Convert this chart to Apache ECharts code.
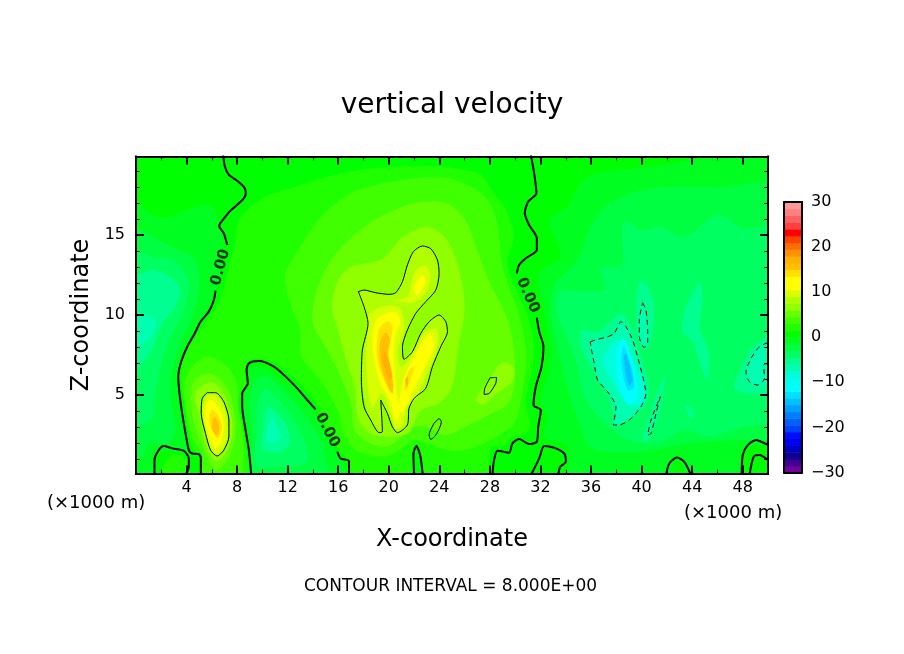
<!DOCTYPE html>
<html>
<head>
<meta charset="utf-8">
<title>vertical velocity</title>
<script src="https://cdn.jsdelivr.net/npm/echarts@6/dist/echarts.min.js"></script>
<style>
html,body{margin:0;padding:0;background:#fff}
#chart{width:904px;height:654px}
</style>
</head>
<body>
<div id="chart"></div>
<script>
// colour bar: lower edge of each band, and its colour
var bandFloors = [-30,-28.5,-27,-25.5,-24,-22.5,-21,-19.5,-18,-16.5,-15,-13.5,-12,-10.5,-9,-7.5,-6,-4.5,-3,-1.5,
                  0,1.5,3,4.5,6,7.5,9,10.5,12,13.5,15,16.5,18,19.5,21,22.5,24,25.5,27,28.5];
var bandColors = ['#7000a0','#400090','#100090','#0000c0','#0000f0','#0010ff','#0040ff','#0060ff','#0080ff','#00a0ff',
                  '#00c0ff','#00e0ff','#00ffff','#00fff0','#00ffd8','#00ffb0','#00ff90','#00ff60','#00ff40','#00ff20',
                  '#00ff00','#20ff00','#40ff00','#66ff00','#90ff00','#b0ff00','#d8ff00','#ffff00','#ffff00','#ffe000',
                  '#ffc000','#ffb000','#ff9000','#ff6c00','#ff4000','#ff0000','#ff4040','#ff6060','#ff8080','#ff9898'];

// axis ticks (km)
var xMajor = [4,8,12,16,20,24,28,32,36,40,44,48];
var xMinor = [2,6,10,14,18,22,26,30,34,38,42,46];
var zMajor = [5,10,15];
var zMinor = [1,2,3,4,6,7,8,9,11,12,13,14,16,17,18,19];
var barTicks = [-30,-20,-10,0,10,20,30];

// filled field: [band floor, [[x km, z km], ...]]
var fieldBase = [[0, [[-1,-1],[51,-1],[51,21],[-1,21]]]];
var leftLow = [
  [-1.5, [[-1,18],[1,16.4],[2.5,16.1],[4.5,16.7],[6,16.8],[6.6,15.6],[6.9,14.5],[6.6,12.5],[6,10.8],[5,9.3],[3.9,7.7],[3.4,6],[3.5,4.2],[3.9,2.4],[4.1,1.6],[3,1.5],[1.8,1.4],[1.3,0.8],[1.3,-1],[-1,-1]]],
  [-3, [[-1,15.6],[1.5,14.8],[3,14.2],[4.5,13.6],[5,12],[4.5,10],[3.5,8.2],[2.8,6.3],[2.8,4.5],[3.1,2.8],[2.5,2],[1,2],[0.5,1.2],[-1,1]]],
  [-4.5, [[-1,14],[1.5,13.6],[3,13.4],[4.1,12.2],[3.8,10.3],[2.6,8.4],[1.9,6.5],[1.5,5],[1.2,3.5],[-1,3]]],
  [-6, [[-1,11.8],[1.3,12.8],[2.8,12.3],[3.5,11.6],[3.1,10.5],[2,9.3],[1.3,7.9],[0.3,6.8],[-1,6.6]]],
  [-7.5, [[-1,10.2],[1.5,9.7],[1.1,8.6],[-1,7.6]]]
];
var midLow = [
  [-1.5, [[8.8,-1],[8.7,2.5],[8.5,4.5],[8.6,5.1],[9,5.8],[9,6.7],[10,6.8],[11.5,6],[13,5],[14.2,3.8],[15,2.5],[15.9,1.3],[16.4,0.8],[16.6,-1]]],
  [-3, [[9.1,-1],[9.2,2.5],[9,4.5],[9.5,6],[10.5,6.1],[12,5],[13.5,3.6],[14.6,2.2],[15,1],[15.3,-1]]],
  [-4.5, [[9.5,0.6],[9.5,2.5],[9.6,4.5],[10.3,5.4],[11.5,4.5],[12.6,3.3],[13.4,2],[13.5,0.8],[11.5,0.5]]],
  [-6, [[10,1.6],[10.1,3],[10.4,4.3],[11,4],[11.9,3.1],[12.2,2.1],[11.8,1.6],[10.9,1.4]]],
  [-7.5, [[10.4,2.1],[10.5,3.1],[10.9,3.5],[11.2,2.9],[11.5,2.4],[11,2]]]
];
var rightLow = [
  [-1.5, [[51,19.06],[38.1,19.06],[35.46,18.5],[34.14,16.77],[32.7,15.9],[33.6,13.65],[31.9,12.6],[32.56,9.06],[32.7,6.77],[32,4.5],[32.56,3.65],[32.3,2.4],[34.14,1.77],[34.4,-1],[41.8,-1],[42.85,1.35],[44.2,-1],[47.9,-1],[47.9,1.56],[51,2.4]]],
  [-3, [[51,17.8],[46,18],[40.7,17.9],[37.3,16.9],[35.8,15.2],[34.9,13.4],[33.1,11.9],[32.8,10.2],[33.5,7.4],[34.2,5.3],[35.2,3],[36,1.7],[39.7,1.45],[43.9,2],[47.6,2.2],[51,2.6]]],
  [-4.5, [[51,15.4],[48.1,15.4],[46,16.25],[43.4,14.9],[41.5,15.5],[40.2,15.3],[38.6,15.8],[38.4,13],[36.8,13],[37,11.55],[33.6,11.45],[33.35,10.1],[34.7,7.4],[35.5,4.9],[36.8,3.45],[38.9,2.2],[41.3,2],[43.4,2.8],[45.5,2.4],[47.9,3],[51,3.65]]],
  [-6, [[35.3,9.05],[36.5,8.95],[38.4,10.1],[39.3,9.05],[39.7,8],[40.5,5.95],[40.5,4.7],[39.7,3.85],[38.1,3.45],[37.6,4.3],[37,5.7],[36,6.8],[35.2,8]]],
  [-6, [[40,12.2],[40.9,10.95],[40.9,9.05],[40.35,7.8],[39.7,8.45],[39.55,10.5]]],
  [-6, [[44.6,12],[44.8,10.95],[44.6,9.25],[45.35,7.6],[45.2,5.95],[44.7,6.8],[44,8.45],[43.25,8.85],[43.4,10.3]]],
  [-6, [[51,9.05],[48.8,8],[47.9,6.77],[47.35,5.5],[48.4,5.1],[51,5.3]]],
  [-6, [[41.8,6.15],[41.4,3.85],[40.5,2.2],[40.1,2.2],[40.74,4.05]]],
  [-6, [[43.8,4.27],[44.2,3.65],[43.8,3.65],[43.5,4.27]]],
  [-7.5, [[35.94,8.33],[37.31,8.64],[37.84,8.85],[38.36,9.58],[39.29,8.44],[39.82,6.98],[40.34,5.1],[39.95,4.27],[39.16,3.54],[37.76,3.13],[37.97,4.27],[37.31,5.21],[36.52,5.94],[36.25,6.98]]],
  [-7.5, [[40.08,10.77],[40.48,9.06],[40.48,8.23],[40.21,7.98],[39.82,8.64],[39.82,9.69]]],
  [-7.5, [[51,8.4],[49.32,8.02],[48.66,7.29],[48.26,6.46],[48.53,5.83],[49.19,5.62],[51,6]]],
  [-9, [[37,7.4],[38.1,8.45],[38.9,7.8],[40.2,5.7],[40.2,4.5],[39.5,4.3],[38.6,4.7],[37.8,5.7],[37,6.77]]],
  [-12, [[38,7.6],[38.6,8.55],[39.3,7],[39.7,4.9],[38.9,4.4],[38.1,5.95]]],
  [-13.5, [[38.4,7],[38.6,8.1],[39.2,6.75],[39.4,5.5],[38.9,5.3]]],
  [-15, [[38.6,7.2],[38.75,7.6],[39.3,5.95],[39,5.6]]]
];
var centerHigh = [
  [1.5, [[22,19.3],[25,19.2],[27.3,18.75],[28.3,17.6],[29.3,16.55],[29.9,14.9],[29.4,13.4],[29.65,12.4],[31,9.9],[31.5,7.8],[31.1,5.7],[30.8,4.5],[31.2,3],[30.6,2.5],[29.8,2.4],[29.1,1.8],[28.2,1.8],[27.9,0.9],[27.9,-1],[22.8,-1],[22.5,1.5],[22.2,2],[21.9,1.5],[21.8,-1],[17.5,-1],[16.7,1],[16,1.6],[15,3],[14.4,4.3],[13,5.7],[11,7],[9.7,7.3],[8.9,7.1],[8.6,6.4],[8.7,5.7],[8.2,5],[8.2,4],[8.5,2.8],[8.7,1.5],[8.9,-1],[5.4,-1],[5.4,1.2],[4.5,1.6],[4.2,2.5],[3.9,4],[3.6,5.5],[3.6,6.8],[4.2,8],[5.4,9.4],[6.5,10.7],[7.2,12.5],[7.8,14.5],[8.2,16],[10,17.3],[12.5,18],[15,18.6],[18,19.1]]],
  [3, [[25,18.5],[23,18.6],[20,18.3],[17,17.6],[14.5,16],[12.8,14],[11.8,12.5],[12.3,10.5],[13,9],[13,7.5],[14.5,6],[16,4],[16.5,2.5],[17.5,1.5],[20,1.2],[22,2.2],[23,2],[25,1.5],[27,1.8],[28.5,2.4],[30,3.3],[30.5,5],[30.9,7.5],[30.3,10],[29,13],[28.5,16],[27.5,17.5]]],
  [4.5, [[24.5,17],[22,17],[19,16],[17,14.8],[15.5,13.5],[14.3,11.5],[14,9.5],[15,8],[16,6.5],[17,4.5],[17.3,2.8],[18.5,2],[20,1.8],[22,3],[23,3],[24.5,2.5],[26,3],[28,3.8],[29.5,4.5],[30,6.5],[29.5,9.5],[28,12],[27,14],[26,16]]],
  [6, [[23,15.5],[21,14.8],[19.5,13.5],[17,13],[16,12.2],[15.5,10.5],[16,9],[16.5,7.5],[17.3,5.5],[17.6,3.5],[18.8,2.5],[21.5,2.6],[22.5,4],[24,4.5],[25,5.5],[25.5,8],[26,10.5],[25.5,13],[24.5,14.8]]],
  [4.5, [[25.2,6],[26,8],[26.5,8.2],[26.2,7.4],[25.4,5.9]]],
  [6, [[26.9,4.7],[28,6],[28.9,7],[29.8,6.8],[29.8,5.9],[28.4,5],[27.5,4.4]]],
  [6, [[16.7,9.6],[17,9],[16.7,8.4],[16.3,8.6],[16.3,9.3]]],
  [7.5, [[17.59,11.46],[18.96,11.39],[20.02,11.29],[20.55,11.39],[21.47,13.12],[21.95,13.96],[22.66,14.31],[23.32,14.14],[23.98,12.6],[23.72,11.56],[22.13,10.1],[21.47,9.06],[21.08,8.02],[21.2,7.23],[22.53,8.85],[23.98,10],[24.64,8.96],[23.45,6.77],[22.92,5.42],[21.6,4.17],[21.47,3.13],[20.68,2.65],[19.89,3.85],[19.36,4.69],[19.49,2.71],[18.57,3.44],[17.83,5.94],[17.91,7.81],[18.36,9.48]]],
  [9, [[18.5,10.1],[19.9,10.6],[20.9,10.4],[21.2,9.05],[20.7,7.8],[21,6.75],[22,7.7],[22.8,8.9],[23.8,9.1],[23.8,7.9],[23,6.35],[22.3,5.1],[21.4,4.2],[21.1,3.1],[20.55,2.9],[20.15,3.85],[19.5,5.1],[18.7,4.25],[18.3,5.7],[18.2,7.4],[18.3,8.85]]],
  [9, [[20.4,10.9],[21.5,11.15],[22,12.6],[22.8,13.1],[23.3,12.6],[23.05,11.55],[22,10.8]]],
  [10.5, [[19.1,9.8],[20.5,10.2],[20.9,9.65],[20.5,8.6],[20.4,7.35],[20.6,5.3],[20.85,3.85],[20.55,3.3],[20.15,4.5],[19.35,5.75],[18.8,7.4],[18.7,8.7]]],
  [10.5, [[21.2,6],[22.1,7.6],[23.2,8.8],[23.6,8.1],[22.75,6.6],[21.85,5.15],[21.1,3.85],[20.8,4.2]]],
  [10.5, [[22,11.75],[22.65,12.5],[22.9,12],[22.25,11.25]]],
  [13.5, [[19.2,9.05],[19.9,9.6],[20.3,9.25],[20,7.8],[20.3,5.1],[19.75,5.7],[19.1,7.2]]],
  [13.5, [[21.2,5.3],[21.6,6.55],[22,6.75],[21.5,5.5]]],
  [15, [[19.3,8.25],[19.75,8.9],[20.1,8.45],[19.9,7.4],[20.3,5.95],[20.3,5.1],[19.85,5.7],[19.35,7]]],
  [16.5, [[19.5,7.4],[19.75,7.7],[20.3,6.15],[20,6]]],
  [16.5, [[21.3,5.95],[21.5,6.15],[21.45,5.5]]],
  [0, [[21.9,-1],[22,1.2],[22.2,1.6],[22.5,1.1],[22.6,-1]]]
];
var lobeHigh = [
  [1.5, [[2,0.4],[3,1.3],[4,1],[3.9,0.2],[2.1,0.2]]],
  [3, [[5.8,7.4],[7.2,6.8],[8,5.7],[8.1,4.1],[8.5,2],[8,-1],[5.2,-1],[5.2,1.35],[4.4,2.4],[3.9,4.5],[3.9,6],[4.7,7]]],
  [4.5, [[5.8,6.35],[6.8,5.9],[7.5,4.9],[7.9,3],[7.5,1.35],[6.4,0.3],[5.8,0.9],[4.7,3],[4.3,4.9],[4.7,6]]],
  [6, [[5.8,5.8],[6.7,5.4],[7.5,3.85],[7.6,2.4],[6.8,1.05],[6.2,0.95],[5.5,2],[5,3.85],[4.7,5.1]]],
  [7.5, [[5.63,5.15],[6.29,5.15],[6.95,4.58],[7.35,3.44],[7.35,2.4],[6.95,1.56],[6.42,1.19],[5.9,1.56],[5.5,2.6],[5.16,3.85],[5.24,4.79]]],
  [9, [[5.7,5],[6.5,4.9],[7.1,3.8],[7.25,2.5],[6.8,1.5],[6.4,1.3],[5.9,1.7],[5.45,3],[5.3,4.2]]],
  [10.5, [[6,4.7],[6.7,4.05],[6.95,3],[6.7,2],[6.3,1.7],[5.8,2.4],[5.4,3.65],[5.6,4.5]]],
  [13.5, [[6,4.1],[6.55,3.65],[6.8,3],[6.5,2.3],[6,2.8],[5.8,3.45]]],
  [15, [[6.2,3.65],[6.55,3.2],[6.55,2.6],[6.3,2.5],[6,3]]]
];

// contours: [x km, z km]
var zeroContours = [
  [[6.9,20],[7.03,19.27],[7.35,18.75],[8,18.39],[8.54,18],[8.69,17.64],[8.54,17.29],[8.14,16.98],[7.48,16.52],[7.08,16.15],[6.58,15.56],[6.95,15.1],[7.22,14.37]],
  [[6.29,11.52],[6.16,10.94],[5.76,10.21],[5.1,9.58],[4.58,8.75],[4.05,8.02],[3.57,7.08],[3.34,6.15],[3.44,5.1],[3.65,3.85],[3.92,2.6],[4.18,1.56],[4.44,1.35],[4.97,1.31],[5.13,1.04],[5.13,0]],
  [[1.46,0],[1.46,0.94],[1.8,1.56],[2.2,1.81],[2.86,1.67],[3.78,1.52],[4.18,1.04],[4.18,0.52],[3.92,0]],
  [[9.12,0],[8.93,1.56],[8.67,2.81],[8.4,4.27],[8.4,5.1],[8.85,5.73],[8.75,6.56],[8.93,6.98],[9.72,7.12],[10.91,6.77],[11.84,6.15],[12.76,5.42],[13.55,4.69],[14.21,4.1]],
  [[15.93,1.46],[16.19,1.04],[16.85,0.87],[16.85,0]],
  [[22,0],[21.95,1.35],[22.18,1.81],[22.48,1.25],[22.69,0]],
  [[31.24,20],[31.5,18.85],[31.68,17.6],[31.02,17.08],[30.76,16.35],[31.1,15.62],[31.71,14.79],[31.71,14.06],[30.84,13.54],[30.31,13.12],[30.13,12.6]],
  [[31.71,9.83],[31.9,8.96],[32.24,8.02],[32.08,6.77],[31.63,5.52],[31.45,4.37],[32.03,4.06],[31.82,3.02],[31.71,2.08],[31.1,1.94],[30.31,2.25],[29.78,1.98],[29.52,1.4],[28.6,1.52],[28.33,0.94],[28.2,0]],
  [[31.24,0],[31.9,1.04],[32.29,1.81],[33.08,1.71],[33.88,1.35],[34.01,0.83],[33.56,0.52],[33.4,0]],
  [[41.93,0],[42.19,0.73],[42.8,1.1],[43.38,0.83],[43.91,0]],
  [[47.92,0],[48,1.25],[48.4,1.87],[49.06,2.19],[49.85,1.94],[50,1.9]],
  [[48.53,0],[48.87,1.15],[49.32,1.25],[50,0.94]]
];
var plusContours = [
  [[17.59,11.46],[18.04,11.56],[18.96,11.39],[20.02,11.29],[20.55,11.39],[21.08,12.08],[21.47,13.12],[21.95,13.96],[22.66,14.31],[23.32,14.14],[23.85,13.44],[23.98,12.6],[23.72,11.56],[22.92,10.83],[22.13,10.1],[21.47,9.06],[21.08,8.02],[21.2,7.23],[21.87,7.71],[22.53,8.85],[23.19,9.58],[23.98,10],[24.51,9.58],[24.64,8.96],[24.11,8.02],[23.45,6.77],[22.92,5.42],[22,4.79],[21.6,4.17],[21.47,3.13],[20.68,2.65],[20.28,3.02],[19.89,3.85],[19.36,4.69],[19.49,2.71],[19.23,2.65],[18.57,3.44],[18.04,4.27],[17.83,5.94],[17.91,7.81],[18.36,9.48],[18.04,10.52],[17.59,11.46]],
  [[5.63,5.15],[6.29,5.15],[6.95,4.58],[7.35,3.44],[7.35,2.4],[6.95,1.56],[6.42,1.19],[5.9,1.56],[5.5,2.6],[5.16,3.85],[5.24,4.79],[5.63,5.15]],
  [[23.98,3.54],[24.16,3.33],[23.72,2.5],[23.32,2.23],[23.19,2.5],[23.58,3.23],[23.98,3.54]],
  [[28.02,6.08],[28.52,6.1],[28.46,5.73],[27.94,5.1],[27.54,5.04],[27.59,5.42],[28.02,6.08]]
];
var minusContours = [
  [[35.94,8.33],[36.52,8.48],[37.31,8.64],[37.84,8.85],[38.36,9.58],[38.76,9.27],[39.29,8.44],[39.82,6.98],[40.16,5.94],[40.34,5.1],[39.95,4.27],[39.16,3.54],[38.23,3.13],[37.76,3.13],[37.97,4.27],[37.31,5.21],[36.52,5.94],[36.25,6.98],[35.99,8.02],[35.94,8.33]],
  [[40.08,10.77],[40.34,10.31],[40.48,9.06],[40.48,8.23],[40.21,7.98],[39.82,8.64],[39.82,9.69],[40.08,10.77]],
  [[41.48,4.9],[41.14,3.85],[40.74,2.6],[40.48,2.5],[40.74,3.44],[41.48,4.9]],
  [[49.98,8.27],[49.32,8.02],[48.66,7.29],[48.26,6.46],[48.53,5.83],[49.19,5.62],[49.72,6.04],[49.66,6.88],[50,6.98]]
];
// "0.00" labels on the zero contour: x km, z km, rotation
var zeroLabels = [[6.69,12.98,75],[15.14,2.81,-63],[31.0,11.23,-66]];

var FONT = 'DejaVu Sans';
var fieldRegions = fieldBase.concat(leftLow, midLow, rightLow, centerHigh, lobeHigh);

function colorOf(floor){
    return bandColors[bandFloors.indexOf(floor)];
}

// one axis that only carries ticks; gets the frame line as well
function tickAxis(position, min, max, ticks, len, grid){
    return {
        type: 'value', gridIndex: grid || 0, position: position, min: min, max: max, z: 10,
        splitLine: {show: false},
        axisLine: {show: true, onZero: false, lineStyle: {color: '#000', width: 2}},
        axisTick: {show: true, inside: true, length: len, customValues: ticks, lineStyle: {color: '#000', width: len > 5 ? 2 : 1}},
        axisLabel: {show: false}
    };
}
function labelled(axis, values, margin){
    axis.axisLabel = {show: true, customValues: values, margin: margin, color: '#000', fontSize: 16, fontFamily: FONT,
        formatter: function(v){ return String(v).replace('-', '\u2212'); }};
    return axis;
}

var xBottom = labelled(tickAxis('bottom',0,50,xMajor,8), xMajor, 6);
xBottom.name = 'X-coordinate';
xBottom.nameLocation = 'middle';
xBottom.nameGap = 54;
xBottom.nameTextStyle = {fontSize: 24, fontFamily: FONT, color: '#000'};
var zLeft = labelled(tickAxis('left',0.1,19.9,zMajor,8), zMajor, 11);
zLeft.name = 'Z-coordinate';
zLeft.nameLocation = 'middle';
zLeft.nameGap = 37;
zLeft.nameTextStyle = {fontSize: 24, fontFamily: FONT, color: '#000'};

var barRight = labelled(tickAxis('right',-30,30,[],0,1), barTicks, 9);
barRight.axisTick.show = false;
var barLeft = tickAxis('left',-30,30,[],0,1);
barLeft.axisTick.show = false;
var barX0 = tickAxis('bottom',0,1,[],0,1);
barX0.axisTick.show = false;
var barX1 = tickAxis('top',0,1,[],0,1);
barX1.axisTick.show = false;

var chart = echarts.init(document.getElementById('chart'));

var series = [{
    type: 'custom', xAxisIndex: 0, yAxisIndex: 0, z: 1, silent: true,
    data: fieldRegions.map(function(r, i){ return [i]; }),
    encode: {x: -1, y: -1},
    renderItem: function(params, api){
        var r = fieldRegions[params.dataIndex];
        return {
            type: 'polygon',
            shape: {points: r[1].map(function(p){ return api.coord(p); }), smooth: 0.3},
            style: {fill: colorOf(r[0])},
            clipPath: {type: 'rect', shape: {x: params.coordSys.x, y: params.coordSys.y, width: params.coordSys.width, height: params.coordSys.height}}
        };
    }
},{
    type: 'custom', xAxisIndex: 4, yAxisIndex: 4, z: 1, silent: true,
    data: bandFloors.map(function(f, i){ return [i]; }),
    encode: {x: -1, y: -1},
    renderItem: function(params, api){
        var f = bandFloors[params.dataIndex];
        var a = api.coord([0, f + 1.5]), b = api.coord([1, f]);
        return {type: 'rect', shape: {x: a[0], y: a[1], width: b[0] - a[0], height: b[1] - a[1] + 0.5}, style: {fill: bandColors[params.dataIndex]}};
    }
}];
function contourSeries(rows, width, dash){
    rows.forEach(function(row){
        series.push({
            type: 'line', xAxisIndex: 0, yAxisIndex: 0, z: 3, silent: true, data: row, smooth: 0.25,
            showSymbol: false, symbol: 'none', clip: true,
            lineStyle: {color: '#000', width: width, type: dash}
        });
    });
}
contourSeries(zeroContours, 2, 'solid');
contourSeries(plusContours, 1, 'solid');
contourSeries(minusContours, 1, [5,4]);
series.push({
    type: 'scatter', xAxisIndex: 0, yAxisIndex: 0, z: 4, silent: true, symbolSize: 1,
    itemStyle: {color: 'rgba(0,0,0,0)'},
    data: zeroLabels.map(function(l){
        return {value: [l[0], l[1]], label: {rotate: l[2]}};
    }),
    label: {show: true, position: 'inside', formatter: '0.00', color: '#000', fontSize: 15, fontWeight: 'bold', fontFamily: FONT}
});

chart.setOption({
    animation: false,
    backgroundColor: '#fff',
    title: {text: 'vertical velocity', left: 'center', top: 87,
        textStyle: {fontSize: 28, fontWeight: 'normal', fontFamily: FONT, color: '#000'}},
    grid: [
        {left: 136, top: 156.5, width: 632, height: 317},
        {left: 784, top: 202, width: 18, height: 270.5}
    ],
    xAxis: [
        xBottom,
        tickAxis('top',0,50,xMajor,8),
        tickAxis('bottom',0,50,xMinor,4),
        tickAxis('top',0,50,xMinor,4),
        barX0, barX1
    ],
    yAxis: [
        zLeft,
        tickAxis('right',0.1,19.9,zMajor,8),
        tickAxis('left',0.1,19.9,zMinor,4),
        tickAxis('right',0.1,19.9,zMinor,4),
        barRight, barLeft
    ],
    graphic: [
        {type: 'text', left: 47, top: 494, style: {text: '(\u00d71000 m)', fontSize: 18, fontFamily: FONT, fill: '#000'}},
        {type: 'text', left: 684, top: 504, style: {text: '(\u00d71000 m)', fontSize: 18, fontFamily: FONT, fill: '#000'}},
        {type: 'text', left: 304, top: 578, style: {text: 'CONTOUR INTERVAL = 8.000E+00', fontSize: 17, fontFamily: FONT, fill: '#000'}}
    ],
    series: series
});
</script>
</body>
</html>
